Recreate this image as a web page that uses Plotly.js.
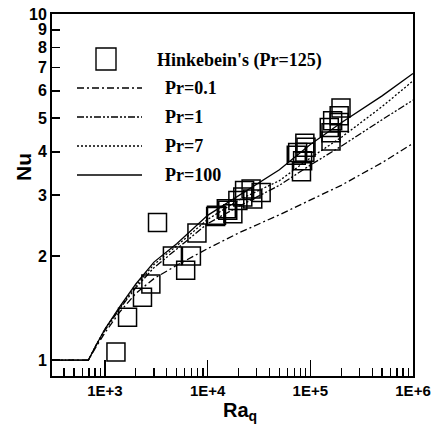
<!DOCTYPE html>
<html>
<head>
<meta charset="utf-8">
<script src="https://cdn.plot.ly/plotly-3.0.1.min.js"></script>
<style>html,body{margin:0;padding:0;background:#fff;}#chart{width:440px;height:427px;}</style>
</head>
<body>
<div id="chart"></div>
<script>
// Curve sample points (Ra_q) and Nu for each Pr
const raCurve = [305, 690, 800, 1000, 1400, 2000, 3000, 5000, 1e4, 2e4, 5e4, 1e5, 2e5, 5e5, 1e6];
const nuPr01  = [1, 1, 1.08, 1.20, 1.38, 1.56, 1.72, 1.88, 2.10, 2.33, 2.63, 2.90, 3.20, 3.72, 4.23];
const nuPr1   = [1, 1, 1.09, 1.22, 1.41, 1.62, 1.85, 2.10, 2.48, 2.78, 3.20, 3.66, 4.15, 4.95, 5.64];
const nuPr7   = [1, 1, 1.09, 1.23, 1.42, 1.64, 1.89, 2.14, 2.55, 2.90, 3.30, 3.84, 4.40, 5.40, 6.41];
const nuPr100 = [1, 1, 1.09, 1.23, 1.43, 1.66, 1.92, 2.17, 2.62, 2.98, 3.55, 4.20, 4.85, 5.80, 6.73];

// Hinkebein's experimental data (Pr=125)
const raExp = [1280, 3250, 1660, 2320, 2800, 4540, 6950, 6110, 7870, 11970, 12200, 15200, 15700, 17600, 19700, 22000, 22900, 26500, 27500, 33200, 73000, 75300, 82000, 84100, 88500, 88500, 90800, 153000, 159000, 159000, 165000, 191000, 191000, 199000];
const nuExp = [1.055, 2.50, 1.33, 1.52, 1.66, 2.00, 2.00, 1.82, 2.33, 2.60, 2.62, 2.74, 2.71, 2.65, 2.89, 2.96, 3.09, 3.12, 2.92, 3.05, 3.91, 3.98, 3.50, 3.77, 4.23, 3.99, 4.12, 4.70, 4.30, 4.54, 4.92, 5.08, 4.86, 5.35];

// Axis ticks
const xTickVals = [1e3, 1e4, 1e5, 1e6];
const xTickText = ['1E+3', '1E+4', '1E+5', '1E+6'];
const yTickVals = [1, 2, 3, 4, 5, 6, 7, 8, 9, 10];
const yTickText = ['1', '2', '3', '4', '5', '6', '7', '8', '9', '10'];

// Legend labels
const legendLabels = ["Hinkebein's (Pr=125)", 'Pr=0.1', 'Pr=1', 'Pr=7', 'Pr=100'];

const xMinor = [];
[100, 1000, 10000, 100000].forEach(d => { for (let k = 2; k <= 9; k++) { const v = k * d; if (v > 305 && v < 1e6) xMinor.push(v); } });

const dashes = ['7px,3px,2px,3px', '7px,2px,2px,2px,2px,2px', '2px,2px', 'solid'];
const curves = [nuPr01, nuPr1, nuPr7, nuPr100];

const traces = curves.map((nu, i) => ({
  x: raCurve, y: nu, type: 'scatter', mode: 'lines',
  line: {color: '#000', width: 1.3, dash: dashes[i]},
  hoverinfo: 'skip', showlegend: false
}));
traces.push({
  x: raExp, y: nuExp, type: 'scatter', mode: 'markers',
  marker: {symbol: 'square-open', size: 18, color: '#000', line: {width: 1.5, color: '#000'}},
  showlegend: false
});

// pixel -> paper helpers
const L = 52, R = 27, T = 14, B = 51, W = 440, H = 427;
const pw = W - L - R, ph = H - T - B;
const px = v => (v - L) / pw;
const py = v => (H - B - v) / ph;

const shapes = [];
const annotations = [];
shapes.push({type: 'rect', xref: 'paper', yref: 'paper', x0: px(96), x1: px(116), y0: py(70), y1: py(48), line: {color: '#000', width: 1.4}});
annotations.push({xref: 'paper', yref: 'paper', x: px(155), y: py(60), text: legendLabels[0], showarrow: false, xanchor: 'left', yanchor: 'middle',
  font: {family: 'Liberation Serif', size: 18, weight: 'bold', color: '#000'}});
const rows = [88, 117, 146, 175];
rows.forEach((r, i) => {
  shapes.push({type: 'line', xref: 'paper', yref: 'paper', x0: px(77), x1: px(142), y0: py(r), y1: py(r), line: {color: '#000', width: 1.3, dash: dashes[i]}});
  annotations.push({xref: 'paper', yref: 'paper', x: px(163), y: py(r), text: legendLabels[i + 1], showarrow: false, xanchor: 'left', yanchor: 'middle',
    font: {family: 'Liberation Serif', size: 18, weight: 'bold', color: '#000'}});
});
annotations.push({xref: 'paper', yref: 'paper', x: px(23), y: py(167), text: 'Nu', textangle: -90, showarrow: false, xanchor: 'center', yanchor: 'middle',
  font: {family: 'Liberation Sans', size: 21, weight: 'bold', color: '#000'}});
annotations.push({xref: 'paper', yref: 'paper', x: px(240), y: py(411), text: 'Ra<sub>q</sub>', showarrow: false, xanchor: 'center', yanchor: 'middle',
  font: {family: 'Liberation Sans', size: 20, weight: 'bold', color: '#000'}});

const layout = {
  width: W, height: H,
  margin: {l: L, r: R, t: T, b: B},
  paper_bgcolor: '#fff', plot_bgcolor: '#fff',
  showlegend: false,
  xaxis: {
    type: 'log', range: [Math.log10(305), 6],
    tickmode: 'array', tickvals: xTickVals, ticktext: xTickText,
    ticks: 'inside', ticklen: 16, tickwidth: 1.5, tickcolor: '#000',
    minor: {tickmode: 'array', tickvals: xMinor, ticks: 'inside', ticklen: 8, tickwidth: 1.2, tickcolor: '#000', showgrid: false},
    showgrid: false, zeroline: false,
    showline: true, linewidth: 2, linecolor: '#000', mirror: true,
    tickfont: {family: 'Liberation Sans', size: 15, weight: 'bold', color: '#000'}
  },
  yaxis: {
    type: 'log', range: [Math.log10(0.9), 1],
    tickmode: 'array', tickvals: yTickVals, ticktext: yTickText,
    ticks: 'inside', ticklen: 8, tickwidth: 1.5, tickcolor: '#000',
    showgrid: false, zeroline: false,
    showline: true, linewidth: 2, linecolor: '#000', mirror: true,
    tickfont: {family: 'Liberation Sans', size: 16, weight: 'bold', color: '#000'}
  },
  shapes: shapes,
  annotations: annotations
};

Plotly.newPlot('chart', traces, layout, {staticPlot: true, displayModeBar: false});
</script>
</body>
</html>
